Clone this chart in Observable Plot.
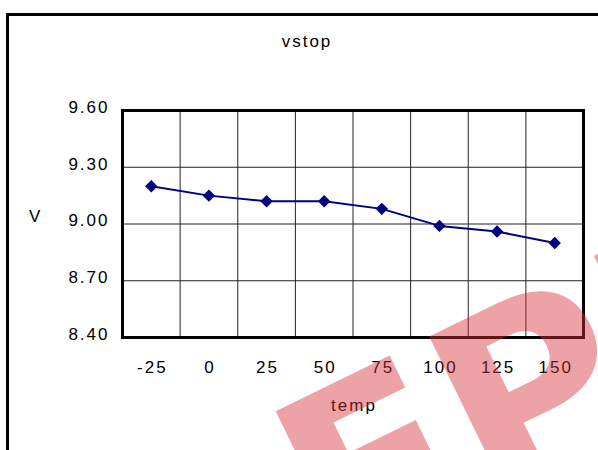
<!DOCTYPE html>
<html>
<head>
<meta charset="utf-8">
<script src="https://cdn.jsdelivr.net/npm/d3@7"></script>
<script src="https://cdn.jsdelivr.net/npm/@observablehq/plot@0.6"></script>
<style>
  html, body { margin: 0; padding: 0; background: #fff; width: 598px; height: 450px; overflow: hidden; }
  #wrap { position: relative; width: 598px; height: 450px; }
  #border { position: absolute; left: 6px; top: 13px; width: 700px; height: 600px; border: 3px solid #000; box-sizing: border-box; }
  #chart { position: absolute; left: 0; top: 0; }
  #wm { position: absolute; left: 0; top: 0; pointer-events: none; }
</style>
</head>
<body>
<div id="wrap">
  <div id="border"></div>
  <div id="chart"></div>
  <svg id="wm" width="598" height="450"></svg>
</div>
<script>
// ---- data ----
const temps = [-25, 0, 25, 50, 75, 100, 125, 150];
const vstop = [9.20, 9.15, 9.12, 9.12, 9.08, 8.99, 8.96, 8.90];
const yTicks = [8.40, 8.70, 9.00, 9.30, 9.60];
const titleText = "vstop";
const xLabel = "temp";
const yLabel = "V";

const data = temps.map((t, i) => ({temp: t, v: vstop[i]}));
const step = temps[1] - temps[0];
const xBounds = temps.slice(1).map((t, i) => (t + temps[i]) / 2);
const innerY = yTicks.slice(1, -1);

const font = "'Liberation Sans', Arial, Helvetica, sans-serif";
const navy = "#000080";

const chart = Plot.plot({
  width: 598,
  height: 450,
  marginLeft: 122,
  marginRight: 15,
  marginTop: 110,
  marginBottom: 113,
  style: {fontFamily: font, fontSize: "17px", letterSpacing: "2px", background: "transparent", color: "#000"},
  x: {type: "linear", domain: [temps[0] - step / 2, temps[temps.length - 1] + step / 2]},
  y: {domain: [yTicks[0], yTicks[yTicks.length - 1]]},
  marks: [
    Plot.ruleX(xBounds, {stroke: "#222", strokeWidth: 1}),
    Plot.ruleY(innerY, {stroke: "#222", strokeWidth: 1}),
    Plot.frame({stroke: "#000", strokeWidth: 3}),
    Plot.axisY({ticks: yTicks, tickFormat: d3.format(".2f"), tickSize: 0, tickPadding: 13, dy: -3, label: null, fill: "#000"}),
    Plot.axisX({ticks: temps, tickFormat: d => String(d), tickSize: 0, tickPadding: 23, dx: 1, label: null, fill: "#000"}),
    Plot.line(data, {x: "temp", y: "v", stroke: navy, strokeWidth: 2}),
    Plot.dot(data, {x: "temp", y: "v", symbol: "diamond2", r: 5.6, fill: navy, stroke: "none"})
  ]
});
document.getElementById("chart").appendChild(chart);

// titles / axis labels
const svg = d3.select(chart);
const addText = (txt, x, y, anchor) => svg.append("text")
  .attr("x", x).attr("y", y).attr("text-anchor", anchor)
  .attr("font-family", font).attr("font-size", 17).attr("letter-spacing", "2px")
  .attr("fill", "#000").text(txt);
addText(titleText, 307, 47, "middle");
addText(yLabel, 29, 222, "start");
addText(xLabel, 354, 411, "middle");

// watermark (decorative, semi-transparent)
d3.select("#wm").append("text")
  .attr("transform", "translate(335,585) rotate(-26)")
  .attr("font-family", "'DejaVu Sans', sans-serif")
  .attr("font-weight", 900)
  .attr("font-size", 250)
  .attr("fill", "rgba(214,48,58,0.45)")
  .text("ЕРМ");
</script>
</body>
</html>
